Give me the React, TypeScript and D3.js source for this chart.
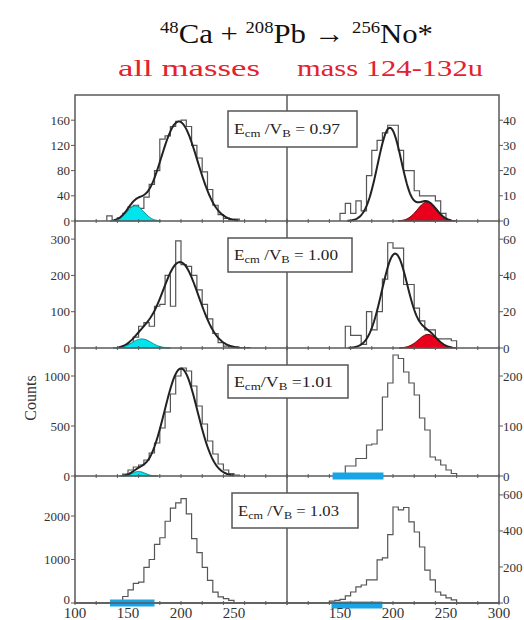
import React from "react";
import * as d3 from "d3";

// ---------- data ----------
const binWidth = 5;
const energyLabels = ["0.97", "1.00", "1.01", "1.03"];
const ratioSep = [" = ", " = ", " =", " = "];

const leftTicks = [[0, 40, 80, 120, 160], [0, 100, 200, 300], [0, 500, 1000], [0, 1000, 2000]];
const rightTicks = [[0, 10, 20, 30, 40], [0, 20, 40, 60], [0, 100, 200], [0, 200, 400, 600]];
const leftMax = [200, 350, 1280, 2920];
const rightMax = [50, 70, 256, 705];
const bottomTicksLeft = [100, 150, 200, 250];
const bottomTicksRight = [150, 200, 250, 300];
const minorTicks = d3.range(100, 301, 20);

// histograms (bin start, counts per 5-unit bin)
const histLeftStart = [130, 150, 145, 145];
const histLeft0 = [8, 2, 5, 12, 22, 25, 20, 38, 58, 80, 130, 135, 150, 158, 160, 150, 120, 100, 78, 50, 25, 10, 4, 2, 3];
const histLeft1 = [10, 30, 60, 70, 60, 115, 120, 200, 115, 295, 230, 225, 200, 160, 120, 80, 40, 15, 5, 3, 2, 1, 1];
const histLeft2 = [20, 60, 90, 110, 160, 230, 330, 480, 640, 820, 1000, 1080, 1050, 900, 700, 520, 350, 220, 120, 60, 25, 10];
const histLeft3 = [150, 300, 450, 480, 820, 1000, 1350, 1500, 1880, 2180, 2300, 2400, 2050, 1480, 1160, 820, 520, 250, 140, 100, 60];

const histRightStart = [150, 155, 155, 140];
const histRight0 = [3, 7, 3, 8, 4, 18, 28, 32, 35, 38, 38, 28, 20, 20, 12, 10, 10, 10, 8, 3];
const histRight1 = [12, 7, 7, 2, 20, 10, 20, 38, 58, 55, 55, 35, 35, 22, 15, 10, 10, 5, 5, 5, 4];
const histRight2 = [20, 20, 35, 35, 62, 64, 92, 158, 186, 242, 235, 208, 186, 162, 116, 92, 38, 32, 22, 12, 5];
const histRight3 = [10, 15, 20, 40, 61, 89, 100, 128, 128, 239, 250, 380, 533, 517, 530, 450, 394, 311, 183, 128, 61, 44, 28, 17];

// Gaussian fits [center, sigma, amplitude]
const fitMainLeft = [[198, 17.5, 158], [199, 17.5, 237], [200, 15.5, 1075]];
const fitCyanLeft = [[157, 8, 24], [163, 9, 25], [160, 6, 45]];
const fitMainRight = [[197, 11.5, 37], [202, 12.5, 52]];
const fitRedRight = [[232, 9, 7.5], [233, 9, 7.5]];

// highlighted ranges (blue bars)
const blueRightRow3 = [143, 191];
const blueLeftRow4 = [133, 175];
const blueRightRow4 = [142, 190];

// ---------- layout ----------
const rowTop = [95, 221, 348, 476];
const rowBase = [221, 348, 476, 603];
const boxes = [
  { x: 228, y: 111, w: 129, h: 36, tl: 106 },
  { x: 228, y: 238, w: 124, h: 34, tl: 104 },
  { x: 228, y: 365, w: 120, h: 33, tl: 99 },
  { x: 232, y: 493, w: 126, h: 35, tl: 101 },
];

const FONT = "'Times New Roman', 'Liberation Serif', Tinos, 'DejaVu Serif', serif";
const AXIS = "#5a5a5a";

const xL = d3.scaleLinear().domain([100, 300]).range([75, 287]);
const xR = d3.scaleLinear().domain([100, 300]).range([287, 499]);

const gauss = (v: number, p: number[]) => p[2] * Math.exp(-((v - p[0]) ** 2) / (2 * p[1] * p[1]));

function stepPath(x: any, y: any, start: number, counts: number[]) {
  let d = `M${x(start)},${y(0)}`;
  counts.forEach((c, i) => {
    d += `V${y(c)}H${x(start + (i + 1) * binWidth)}`;
  });
  d += `V${y(0)}`;
  return d;
}

function FitLine({ x, y, comps, lo, hi }: any) {
  const vs = d3.range(lo, hi + 0.01, 1);
  const line = d3.line<number>().x((v) => x(v)).y((v) => y(comps.reduce((s: number, p: number[]) => s + gauss(v, p), 0)));
  return <path d={line(vs) || ""} fill="none" stroke="#222" strokeWidth={2} />;
}

function FillComp({ x, y, p, color, stroke }: any) {
  const vs = d3.range(p[0] - 3 * p[1], p[0] + 3 * p[1] + 0.01, 1);
  const area = d3.area<number>().x((v) => x(v)).y0(y(0)).y1((v) => y(gauss(v, p)));
  return <path d={area(vs) || ""} fill={color} stroke={stroke} strokeWidth={1} />;
}

function BlueBar({ x, y0, range }: any) {
  return <rect x={x(range[0])} y={y0 - 3.5} width={x(range[1]) - x(range[0])} height={7} fill="#18a4e6" />;
}

export default function App() {
  const leftHists = [histLeft0, histLeft1, histLeft2, histLeft3];
  const rightHists = [histRight0, histRight1, histRight2, histRight3];

  return (
    <svg width={524} height={620} fontFamily={FONT}
      style={{ display: "block", position: "absolute", left: 0, top: 0, fontFamily: FONT }}>
      <rect x={0} y={0} width={524} height={620} fill="#fff" />
      {/* title */}
      <text x={160} y={43} fontSize={28} fill="#111" fontFamily={FONT} textLength={273} lengthAdjust="spacingAndGlyphs">
        <tspan fontSize={17} dy={-10}>48</tspan>
        <tspan dy={10}>Ca + </tspan>
        <tspan fontSize={17} dy={-10}>208</tspan>
        <tspan dy={10}>Pb → </tspan>
        <tspan fontSize={17} dy={-10}>256</tspan>
        <tspan dy={10}>No*</tspan>
      </text>
      <text x={118} y={76} fontSize={23} fill="#e3222e" fontFamily={FONT} textLength={142} lengthAdjust="spacingAndGlyphs">all masses</text>
      <text x={297} y={76} fontSize={23} fill="#e3222e" fontFamily={FONT} textLength={186} lengthAdjust="spacingAndGlyphs">mass 124-132u</text>

      {rowTop.map((top, r) => {
        const base = rowBase[r];
        const yl = d3.scaleLinear().domain([0, leftMax[r]]).range([base, top]);
        const yr = d3.scaleLinear().domain([0, rightMax[r]]).range([base, top]);
        return (
          <g key={r}>
            {/* left panel */}
            <path d={stepPath(xL, yl, histLeftStart[r], leftHists[r])} fill="none" stroke="#555" strokeWidth={1.2} />
            {r < 3 && <FillComp x={xL} y={yl} p={fitCyanLeft[r]} color="#00e4ee" stroke="#0a8f95" />}
            {r < 3 && (
              <FitLine x={xL} y={yl} comps={[fitMainLeft[r], fitCyanLeft[r]]}
                lo={Math.round(fitCyanLeft[r][0] - 2.5 * fitCyanLeft[r][1])}
                hi={Math.round(fitMainLeft[r][0] + 3.2 * fitMainLeft[r][1])} />
            )}
            {/* right panel */}
            <path d={stepPath(xR, yr, histRightStart[r], rightHists[r])} fill="none" stroke="#555" strokeWidth={1.2} />
            {r < 2 && <FillComp x={xR} y={yr} p={fitRedRight[r]} color="#e8001c" stroke="#700" />}
            {r < 2 && (
              <FitLine x={xR} y={yr} comps={[fitMainRight[r], fitRedRight[r]]}
                lo={Math.round(fitMainRight[r][0] - 3.5 * fitMainRight[r][1])}
                hi={Math.round(fitRedRight[r][0] + 2.5 * fitRedRight[r][1])} />
            )}

            {/* baseline axis */}
            <line x1={75} x2={499} y1={base} y2={base} stroke={AXIS} strokeWidth={1.5} />
            {minorTicks.map((t) => (
              <g key={t}>
                <line x1={xL(t)} x2={xL(t)} y1={base - 2} y2={base + 2} stroke={AXIS} strokeWidth={1} />
                <line x1={xR(t)} x2={xR(t)} y1={base - 2} y2={base + 2} stroke={AXIS} strokeWidth={1} />
              </g>
            ))}
            {r === 2 && <BlueBar x={xR} y0={base} range={blueRightRow3} />}
            {r === 3 && <BlueBar x={xL} y0={base} range={blueLeftRow4} />}
            {r === 3 && <BlueBar x={xR} y0={base + 2} range={blueRightRow4} />}

            {/* left ticks */}
            {leftTicks[r].map((t) => (
              <g key={"l" + t}>
                <line x1={71} x2={75} y1={yl(t)} y2={yl(t)} stroke={AXIS} strokeWidth={1} />
                <text x={70} y={yl(t) - (r === 3 && t === 0 ? 4 : 0)} dy="0.35em" fontSize={13} fontFamily={FONT} textAnchor="end" fill="#333">{t}</text>
              </g>
            ))}
            {rightTicks[r].map((t) => (
              <g key={"r" + t}>
                <line x1={499} x2={503} y1={yr(t)} y2={yr(t)} stroke={AXIS} strokeWidth={1} />
                <text x={503} y={yr(t) - (r === 3 && t === 0 ? 4 : 0)} dy="0.35em" fontSize={13} fontFamily={FONT} textAnchor="start" fill="#333">{t}</text>
              </g>
            ))}
          </g>
        );
      })}

      {/* frame + divider */}
      <rect x={75} y={95} width={424} height={508} fill="none" stroke={AXIS} strokeWidth={1.5} />
      <line x1={287} x2={287} y1={95} y2={603} stroke={AXIS} strokeWidth={1.5} />

      {/* energy boxes */}
      {boxes.map((b, r) => (
        <g key={r}>
          <rect x={b.x} y={b.y} width={b.w} height={b.h} fill="#fff" stroke="#555" strokeWidth={1.5} />
          <text x={b.x + 6} y={b.y + b.h / 2 + 5} fontSize={15} fill="#222" fontFamily={FONT} textLength={b.tl} lengthAdjust="spacingAndGlyphs">
            E<tspan fontSize={11} dy={3}>cm</tspan>
            <tspan dy={-3}>{r === 2 ? "/V" : " /V"}</tspan>
            <tspan fontSize={11} dy={3}>B</tspan>
            <tspan dy={-3}>{ratioSep[r] + energyLabels[r]}</tspan>
          </text>
        </g>
      ))}

      {/* bottom x labels */}
      {bottomTicksLeft.map((t) => (
        <text key={"bl" + t} x={xL(t)} y={618} fontSize={15} fontFamily={FONT} textAnchor="middle" fill="#333">{t}</text>
      ))}
      {bottomTicksRight.map((t) => (
        <text key={"br" + t} x={xR(t)} y={618} fontSize={15} fontFamily={FONT} textAnchor="middle" fill="#333">{t}</text>
      ))}

      <text transform="translate(36,398) rotate(-90)" fontSize={16} fontFamily={FONT} textAnchor="middle" fill="#333">Counts</text>
    </svg>
  );
}
